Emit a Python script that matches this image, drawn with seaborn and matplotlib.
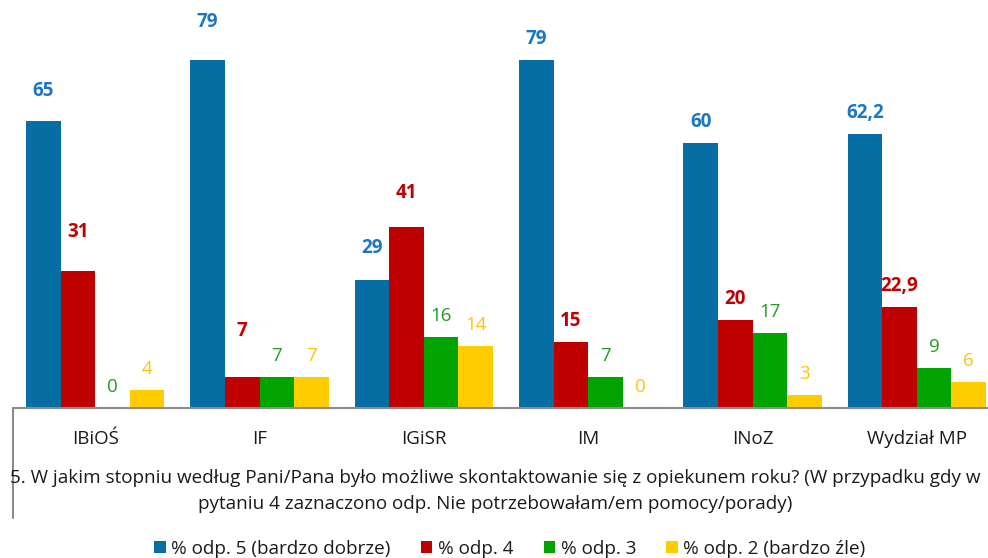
import matplotlib
matplotlib.use("Agg")
import matplotlib.pyplot as plt
from matplotlib import font_manager
from matplotlib.lines import Line2D
from matplotlib.patches import Patch
import seaborn as sns
import pandas as pd

categories = ["IBiOŚ", "IF", "IGiSR", "IM", "INoZ", "Wydział MP"]
series = ["% odp. 5 (bardzo dobrze)", "% odp. 4", "% odp. 3", "% odp. 2 (bardzo źle)"]
odp5 = [65, 79, 29, 79, 60, 62.2]
odp4 = [31, 7, 41, 15, 20, 22.9]
odp3 = [0, 7, 16, 7, 17, 9]
odp2 = [4, 7, 14, 0, 3, 6]
question = ("5. W jakim stopniu według Pani/Pana było możliwe skontaktowanie się z opiekunem roku? (W przypadku gdy w\n"
            "pytaniu 4 zaznaczono odp. Nie potrzebowałam/em pomocy/porady)")

bar_colors = ["#066EA3", "#C00000", "#00A300", "#FFCC00"]
label_colors = ["#1A76C6", "#C00000", "#1E9E1E", "#FFC20E"]
label_bold = [True, True, False, False]
# extra label offsets in pixels (category index, series index) -> px above bar
extra_offset = {(0, 0): 30, (0, 1): 39, (1, 0): 38, (1, 1): 46, (2, 0): 32, (2, 1): 34}
default_offset = 21

sns.set_theme(style="white")
avail = {f.name for f in font_manager.fontManager.ttflist}
fam = [f for f in ["Liberation Sans Narrow", "Open Sans", "DejaVu Sans"] if f in avail]
plt.rcParams["font.family"] = fam + ["DejaVu Sans"]

rows = []
for s, vals in zip(series, [odp5, odp4, odp3, odp2]):
    for c, v in zip(categories, vals):
        rows.append({"cat": c, "series": s, "value": v})
df = pd.DataFrame(rows)

W, H = 988, 558
fig = plt.figure(figsize=(W / 100, H / 100), dpi=100)
ax_left, ax_right = 13, 999
ax_bottom = 408
ymax = 90
px_per_unit = 4.41
ax_top = ax_bottom - ymax * px_per_unit
ax = fig.add_axes([ax_left / W, (H - ax_bottom) / H, (ax_right - ax_left) / W, (ax_bottom - ax_top) / H])

sns.barplot(data=df, x="cat", y="value", hue="series", order=categories, hue_order=series,
            palette=bar_colors, width=0.84, ax=ax, legend=False, saturation=1, linewidth=0)

ax.set_xlim(-0.5, 5.5)
ax.set_ylim(0, ymax)
for sp in ["top", "right", "left"]:
    ax.spines[sp].set_visible(False)
ax.spines["bottom"].set_color("#8C8C8C")
ax.spines["bottom"].set_linewidth(1.5)
ax.set_yticks([])
ax.set_xlabel("")
ax.set_ylabel("")
ax.tick_params(axis="x", length=0, pad=16, labelsize=13.5, labelcolor="#1a1a1a")

# vertical line at left of category area
h_ax = ax_bottom - ax_top
ax.add_line(Line2D([0, 0], [0, -(518 - ax_bottom) / h_ax], transform=ax.transAxes,
                   color="#8C8C8C", lw=1.5, clip_on=False))

for si, cont in enumerate(ax.containers):
    for ci, bar in enumerate(cont):
        v = [odp5, odp4, odp3, odp2][si][ci]
        txt = (f"{v:g}").replace(".", ",")
        off = extra_offset.get((ci, si), default_offset)
        ax.annotate(txt, (bar.get_x() + bar.get_width() / 2, bar.get_height()),
                    xytext=(0, off * 72 / 100), textcoords="offset points",
                    ha="center", va="center", fontsize=13.5,
                    fontweight="bold" if label_bold[si] else "normal",
                    color=label_colors[si], annotation_clip=False)

fig.text(495 / W, 1 - 491 / H, question, ha="center", va="center", fontsize=13.6,
         color="#1a1a1a", linespacing=1.55)

handles = [Patch(facecolor=c, edgecolor="none") for c in bar_colors]
fig.legend(handles, series, loc="center", bbox_to_anchor=(510 / W, 1 - 549 / H), ncol=4,
           frameon=False, fontsize=13.6, handlelength=0.6, handleheight=0.6,
           handletextpad=0.3, columnspacing=1.6, labelcolor="#1a1a1a")

fig.savefig("out.png", dpi=100)
